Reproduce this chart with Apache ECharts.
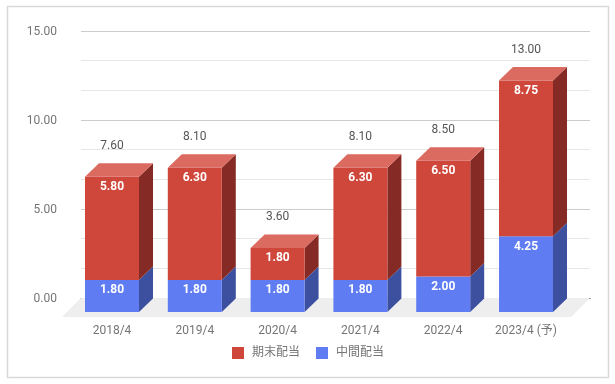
<!DOCTYPE html>
<html>
<head>
<meta charset="utf-8">
<style>
  html, body { margin: 0; padding: 0; background: #fff; }
  #chart { width: 615px; height: 384px; }
</style>
<script src="https://cdn.jsdelivr.net/npm/echarts@6/dist/echarts.min.js"></script>
</head>
<body>
<div id="chart"></div>
<script>
const categories = ['2018/4', '2019/4', '2020/4', '2021/4', '2022/4', '2023/4 (予)'];
const interim = [1.8, 1.8, 1.8, 1.8, 2.0, 4.25];
const yearEnd = [5.8, 6.3, 1.8, 6.3, 6.5, 8.75];
const totals = [7.6, 8.1, 3.6, 8.1, 8.5, 13.0];

const fontFamily = 'Roboto, "Noto Sans CJK JP", sans-serif';
const depthX = 14;
const depthY = 13.5;
const barRatio = 0.652;

// front, side and top colours of each stack part
const redFaces = ['#CF463B', '#852A24', '#DB6A60'];
const blueFaces = ['#5F7CF2', '#3D4F9F', '#5F7CF2'];

function poly(points, fill) {
  return { type: 'polygon', shape: { points }, style: { fill, stroke: null } };
}

function box(faces, drawTop) {
  return (params, api) => {
    const x = api.value(0);
    const low = api.coord([x, api.value(1)]);
    const high = api.coord([x, api.value(2)]);
    const half = api.size([1, 0])[0] * barRatio / 2;
    const l = low[0] - half;
    const r = low[0] + half;
    const children = [
      poly([[r, high[1]], [r + depthX, high[1] - depthY], [r + depthX, low[1] - depthY], [r, low[1]]], faces[1]),
      poly([[l, high[1]], [r, high[1]], [r, low[1]], [l, low[1]]], faces[0])
    ];
    if (drawTop) {
      children.push(poly([[l, high[1]], [l + depthX, high[1] - depthY], [r + depthX, high[1] - depthY], [r, high[1]]], faces[2]));
    }
    children.push({
      type: 'text',
      x: low[0],
      y: high[1] + 10.5,
      style: {
        text: (api.value(2) - api.value(1)).toFixed(2),
        fill: '#fff',
        font: 'bold 12px ' + fontFamily,
        align: 'center',
        verticalAlign: 'middle'
      }
    });
    return { type: 'group', children };
  };
}

function floor(params) {
  const c = params.coordSys;
  const b = c.y + c.height;
  return poly([[c.x, b], [c.x + c.width, b], [c.x + c.width - 19, b + 19], [c.x - 19, b + 19]], '#EEEEEE');
}

function totalLabel(params, api) {
  const p = api.coord([api.value(0), api.value(1)]);
  return {
    type: 'text',
    x: p[0],
    y: p[1] - 31,
    style: {
      text: api.value(1).toFixed(2),
      fill: '#555',
      font: '12px ' + fontFamily,
      align: 'center',
      verticalAlign: 'middle'
    }
  };
}

const interimRows = categories.map((c, i) => [i, 0, interim[i]]);
const yearEndRows = categories.map((c, i) => [i, interim[i], interim[i] + yearEnd[i]]);
const totalRows = categories.map((c, i) => [i, totals[i]]);

const chart = echarts.init(document.getElementById('chart'));
chart.setOption({
  animation: false,
  backgroundColor: '#fff',
  graphic: [{
    type: 'rect',
    shape: { x: 7.5, y: 6.5, width: 601, height: 371 },
    style: { fill: null, stroke: '#D9D9D9', lineWidth: 1.5 },
    silent: true
  }],
  legend: {
    left: 232,
    top: 347,
    padding: 0,
    itemWidth: 12,
    itemHeight: 12,
    itemGap: 16,
    icon: 'rect',
    selectedMode: false,
    data: ['期末配当', '中間配当'],
    textStyle: { fontFamily, fontSize: 12, color: '#757575', padding: [0, 0, 0, 3] }
  },
  grid: [
    // back plane: gridlines
    { left: 81, top: 31, width: 509, height: 267 },
    // front plane: bars and category labels
    { left: 70.6, top: 45, width: 496.8, height: 267 },
    // value labels sit 1px under their gridlines
    { left: 81, top: 32, width: 509, height: 267 }
  ],
  xAxis: [
    {
      gridIndex: 0, type: 'value', min: 0, max: 1,
      axisLabel: { show: false }, axisTick: { show: false }, splitLine: { show: false },
      axisLine: { show: true, lineStyle: { color: '#333' } }
    },
    {
      gridIndex: 1, type: 'category', data: categories,
      axisTick: { show: false }, axisLine: { show: false },
      axisLabel: { fontFamily, fontSize: 12, color: '#757575', margin: 13 }
    },
    { gridIndex: 2, type: 'value', show: false, min: 0, max: 1 }
  ],
  yAxis: [
    {
      gridIndex: 0, type: 'value', min: 0, max: 15, interval: 5,
      axisLine: { show: false }, axisTick: { show: false }, axisLabel: { show: false },
      splitLine: { lineStyle: { color: '#CCCCCC' } },
      minorTick: { show: false, splitNumber: 3 },
      minorSplitLine: { show: true, lineStyle: { color: '#E6E6E6' } }
    },
    {
      gridIndex: 1, type: 'value', min: 0, max: 15,
      axisLine: { show: false }, axisTick: { show: false }, axisLabel: { show: false }, splitLine: { show: false }
    },
    {
      gridIndex: 2, type: 'value', min: 0, max: 15, interval: 5,
      axisLine: { show: false }, axisTick: { show: false }, splitLine: { show: false },
      axisLabel: { fontFamily, fontSize: 12, color: '#757575', margin: 24, formatter: v => v.toFixed(2) }
    }
  ],
  series: [
    {
      type: 'custom', xAxisIndex: 0, yAxisIndex: 0, data: [[0, 0]], clip: false, silent: true, z: 1,
      renderItem: floor
    },
    {
      name: '中間配当', type: 'custom', xAxisIndex: 1, yAxisIndex: 1, clip: false, z: 3,
      itemStyle: { color: blueFaces[0] },
      encode: { x: 0, y: [1, 2] }, data: interimRows, renderItem: box(blueFaces, false)
    },
    {
      name: '期末配当', type: 'custom', xAxisIndex: 1, yAxisIndex: 1, clip: false, z: 3,
      itemStyle: { color: redFaces[0] },
      encode: { x: 0, y: [1, 2] }, data: yearEndRows, renderItem: box(redFaces, true)
    },
    {
      type: 'custom', xAxisIndex: 1, yAxisIndex: 1, clip: false, silent: true, z: 4,
      encode: { x: 0, y: 1 }, data: totalRows, renderItem: totalLabel
    }
  ]
});
</script>
</body>
</html>
